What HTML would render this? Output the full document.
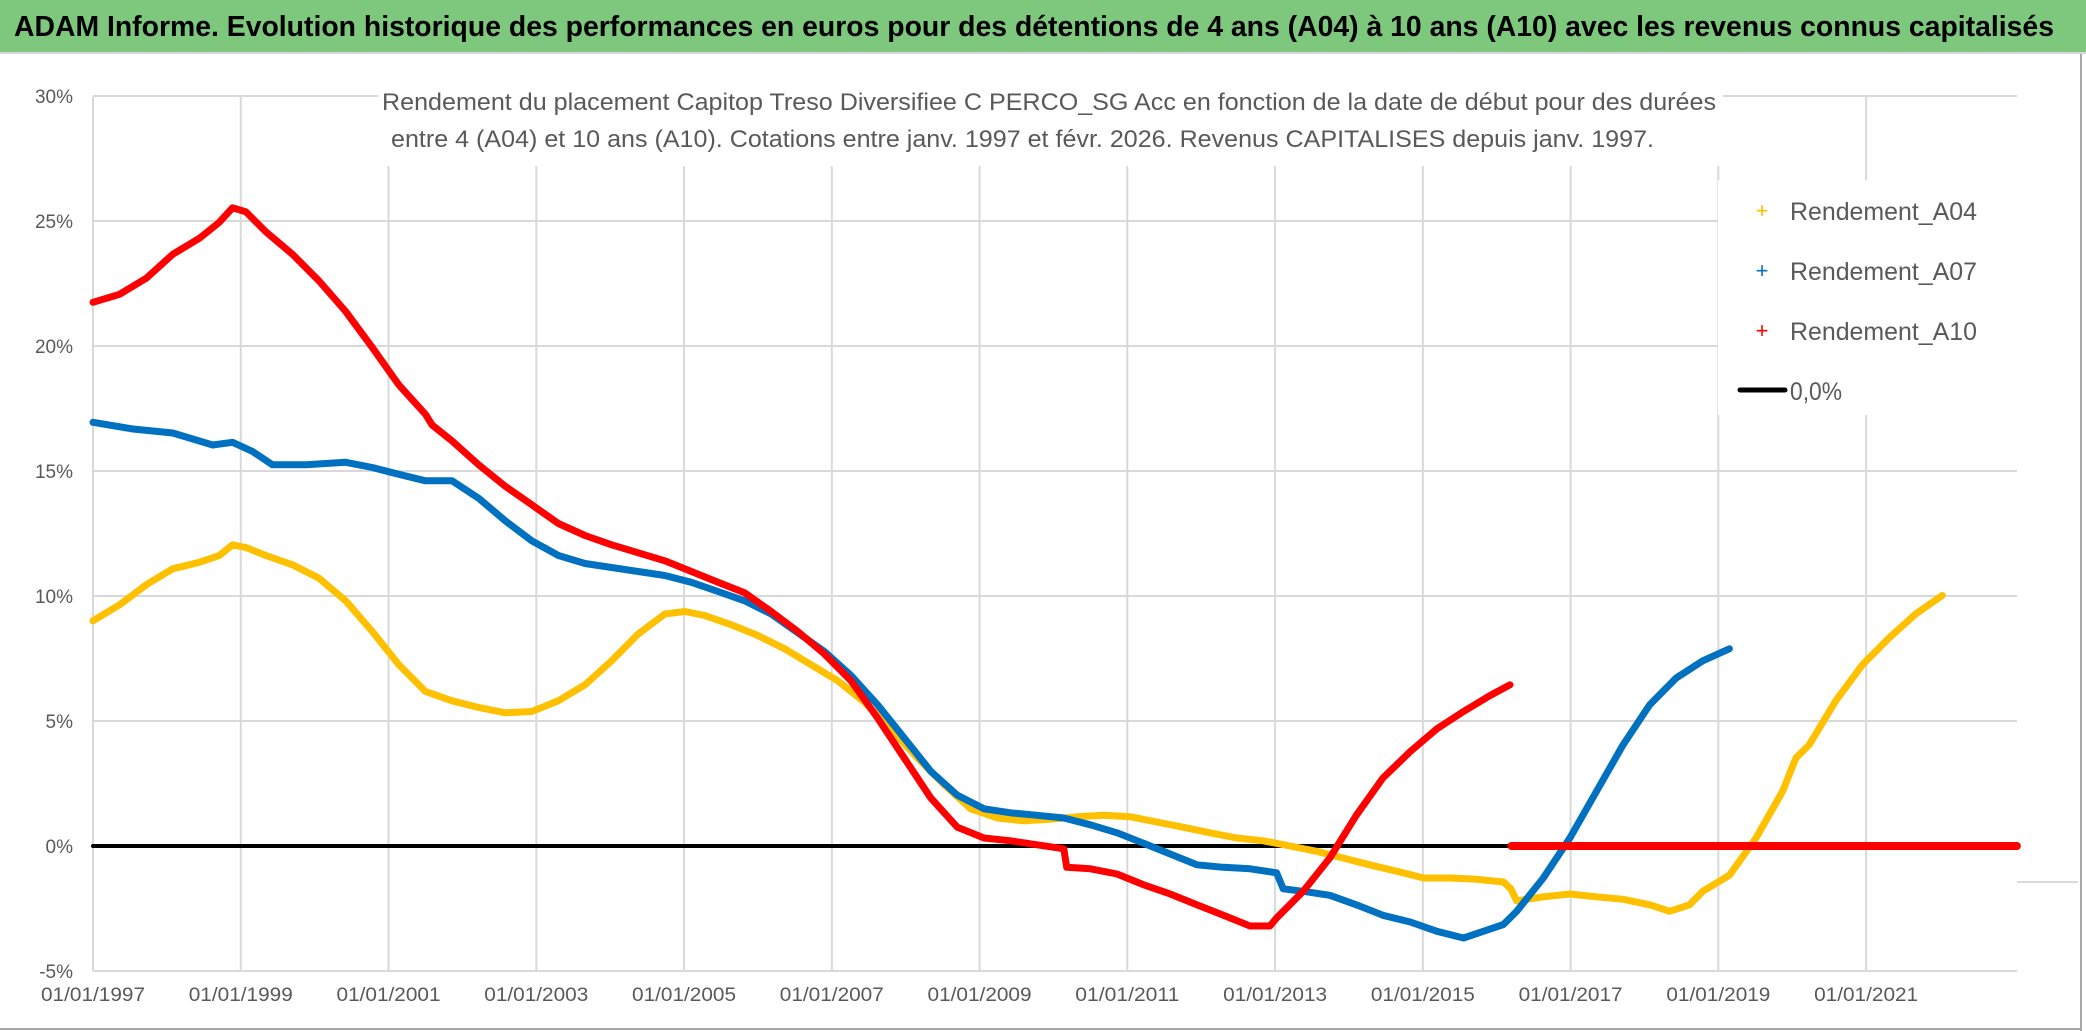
<!DOCTYPE html>
<html><head><meta charset="utf-8">
<style>
html,body{margin:0;padding:0;background:#fff;}
svg{display:block;}
text{font-family:"Liberation Sans",sans-serif;}
</style></head>
<body>
<svg id="chart" width="2086" height="1031" viewBox="0 0 2086 1031">
  <rect x="0" y="0" width="2086" height="1031" fill="#fff"/>
  <rect x="0" y="0" width="2086" height="52" fill="#7dc87c"/>
  <line x1="0" y1="53" x2="2086" y2="53" stroke="#d8d8d8" stroke-width="2"/>
  <text x="14" y="36" font-size="29" font-weight="bold" fill="#000" textLength="2040" lengthAdjust="spacingAndGlyphs">ADAM Informe. Evolution historique des performances en euros pour des détentions de 4 ans (A04) à 10 ans (A10) avec les revenus connus capitalisés</text>
  <line x1="2081" y1="54" x2="2081" y2="1031" stroke="#a6a6a6" stroke-width="2"/>
  <line x1="0" y1="1029" x2="2081" y2="1029" stroke="#a6a6a6" stroke-width="2"/>
  <g id="grid"></g>
  <g id="axes"></g>
  <g id="series"></g>
  <rect x="378" y="76" width="1345" height="90" fill="#fff"/>
  <text x="382" y="110" font-size="24" fill="#595959" textLength="1334" lengthAdjust="spacingAndGlyphs">Rendement du placement Capitop Treso Diversifiee C PERCO_SG Acc en fonction de la date de début pour des durées</text>
  <text x="391" y="147" font-size="24" fill="#595959" textLength="1263" lengthAdjust="spacingAndGlyphs">entre 4 (A04) et 10 ans (A10). Cotations entre janv. 1997 et févr. 2026. Revenus CAPITALISES depuis janv. 1997.</text>
  <g>
    <rect x="1718" y="180" width="312" height="235" fill="#fff"/>
    <text x="1762" y="218" font-size="22" fill="#ffc000" text-anchor="middle">+</text>
    <text x="1790" y="220" font-size="25" fill="#595959" textLength="187" lengthAdjust="spacingAndGlyphs">Rendement_A04</text>
    <text x="1762" y="278" font-size="22" fill="#0070c0" text-anchor="middle">+</text>
    <text x="1790" y="280" font-size="25" fill="#595959" textLength="187" lengthAdjust="spacingAndGlyphs">Rendement_A07</text>
    <text x="1762" y="338" font-size="22" fill="#ff0000" text-anchor="middle">+</text>
    <text x="1790" y="340" font-size="25" fill="#595959" textLength="187" lengthAdjust="spacingAndGlyphs">Rendement_A10</text>
    <line x1="1740" y1="390" x2="1785" y2="390" stroke="#000" stroke-width="5" stroke-linecap="round"/>
    <text x="1790" y="400" font-size="25" fill="#595959" textLength="52" lengthAdjust="spacingAndGlyphs">0,0%</text>
  </g>
</svg>
<script>
const yTicks = [30, 25, 20, 15, 10, 5, 0, -5];
const xTickYears = [1997, 1999, 2001, 2003, 2005, 2007, 2009, 2011, 2013, 2015, 2017, 2019, 2021];
const xTickLabels = ["01/01/1997","01/01/1999","01/01/2001","01/01/2003","01/01/2005","01/01/2007","01/01/2009","01/01/2011","01/01/2013","01/01/2015","01/01/2017","01/01/2019","01/01/2021"];

const a04Years = [1997.0,1997.36,1997.72,1998.08,1998.44,1998.71,1998.89,1999.07,1999.34,1999.70,2000.06,2000.42,2000.78,2001.14,2001.50,2001.86,2002.22,2002.58,2002.94,2003.30,2003.66,2004.02,2004.38,2004.74,2005.01,2005.28,2005.64,2006.0,2006.36,2006.72,2007.08,2007.44,2007.8,2008.16,2008.52,2008.88,2009.24,2009.6,2009.96,2010.32,2010.68,2011.04,2011.4,2011.76,2012.12,2012.48,2012.84,2013.2,2013.56,2013.92,2014.28,2014.65,2015.01,2015.37,2015.73,2016.09,2016.19,2016.27,2016.63,2016.99,2017.35,2017.71,2018.07,2018.34,2018.61,2018.79,2019.15,2019.51,2019.87,2020.05,2020.23,2020.59,2020.95,2021.31,2021.67,2022.03];
const a04Vals = [9.01,9.65,10.45,11.09,11.35,11.62,12.05,11.94,11.62,11.25,10.71,9.81,8.58,7.25,6.18,5.81,5.54,5.33,5.38,5.81,6.45,7.41,8.48,9.28,9.38,9.22,8.85,8.42,7.89,7.25,6.61,5.76,4.69,3.52,2.45,1.49,1.12,1.01,1.07,1.17,1.23,1.17,0.96,0.75,0.53,0.32,0.21,0,-0.21,-0.48,-0.75,-1.01,-1.28,-1.28,-1.33,-1.44,-1.71,-2.19,-2.03,-1.92,-2.03,-2.13,-2.35,-2.61,-2.35,-1.81,-1.17,0.32,2.19,3.52,4.05,5.81,7.25,8.32,9.28,10.02];
const a04ZeroYears = [2022.1, 2023.04];

const a07Years = [1997.0,1997.54,1998.08,1998.62,1998.89,1999.16,1999.43,1999.88,2000.42,2000.78,2001.14,2001.50,2001.86,2002.22,2002.58,2002.94,2003.30,2003.66,2004.02,2004.38,2004.74,2005.10,2005.46,2005.82,2006.18,2006.54,2006.90,2007.26,2007.62,2007.98,2008.34,2008.70,2009.06,2009.42,2009.78,2010.14,2010.50,2010.86,2011.22,2011.58,2011.94,2012.30,2012.66,2013.02,2013.11,2013.38,2013.74,2014.10,2014.46,2014.83,2015.19,2015.55,2015.82,2016.09,2016.27,2016.63,2016.99,2017.35,2017.71,2018.07,2018.43,2018.79,2019.15];
const a07Vals = [16.95,16.68,16.52,16.04,16.15,15.78,15.25,15.25,15.35,15.14,14.87,14.61,14.61,13.91,13.01,12.21,11.62,11.3,11.14,10.98,10.82,10.55,10.18,9.81,9.28,8.53,7.78,6.82,5.65,4.32,2.99,2.03,1.49,1.33,1.23,1.12,0.85,0.53,0.11,-0.32,-0.75,-0.85,-0.91,-1.07,-1.71,-1.81,-1.97,-2.35,-2.77,-3.04,-3.41,-3.68,-3.41,-3.14,-2.61,-1.28,0.32,2.19,4.05,5.65,6.72,7.41,7.89];

const a10Years = [1997.0,1997.36,1997.72,1998.08,1998.44,1998.71,1998.89,1999.07,1999.34,1999.70,2000.06,2000.42,2000.78,2001.14,2001.50,2001.59,2001.86,2002.22,2002.58,2002.94,2003.30,2003.66,2004.02,2004.38,2004.74,2005.10,2005.46,2005.82,2006.18,2006.54,2006.90,2007.26,2007.62,2007.98,2008.34,2008.70,2009.06,2009.42,2009.78,2010.14,2010.18,2010.50,2010.86,2011.22,2011.58,2011.94,2012.30,2012.66,2012.93,2013.02,2013.38,2013.74,2014.10,2014.46,2014.83,2015.19,2015.55,2015.91,2016.18];
const a10Vals = [21.75,22.07,22.71,23.67,24.31,24.95,25.53,25.37,24.57,23.67,22.6,21.38,19.94,18.44,17.27,16.84,16.2,15.25,14.39,13.65,12.9,12.42,12.05,11.73,11.41,10.98,10.55,10.13,9.38,8.58,7.68,6.61,5.12,3.52,1.92,0.75,0.32,0.21,0.05,-0.11,-0.85,-0.91,-1.12,-1.55,-1.92,-2.35,-2.77,-3.2,-3.2,-2.88,-1.81,-0.48,1.23,2.72,3.78,4.69,5.38,6.02,6.45];
const a10ZeroYears = [2016.2, 2023.04];

const NS = "http://www.w3.org/2000/svg";
const X0 = 93, PX_PER_YEAR = 73.88, Y_ZERO = 846, PX_PER_PCT = 25;
const PLOT_RIGHT = 2017, PLOT_TOP = 97, PLOT_BOTTOM = 971;
function xScale(year){ return X0 + (year - 1997) * PX_PER_YEAR; }
function yScale(v){ return Y_ZERO - v * PX_PER_PCT; }

const grid = document.getElementById('grid');
const axes = document.getElementById('axes');
const series = document.getElementById('series');

yTicks.forEach(function(t){
  const l = document.createElementNS(NS,'line');
  l.setAttribute('x1', X0); l.setAttribute('x2', PLOT_RIGHT);
  l.setAttribute('y1', yScale(t)); l.setAttribute('y2', yScale(t));
  l.setAttribute('stroke', '#d9d9d9'); l.setAttribute('stroke-width', '2');
  
  
  grid.appendChild(l);
  const tx = document.createElementNS(NS,'text');
  tx.setAttribute('x', 73); tx.setAttribute('y', yScale(t) + 7);
  tx.setAttribute('text-anchor', 'end'); tx.setAttribute('font-size', '19'); tx.setAttribute('fill', '#595959');
  tx.textContent = t + '%';
  
  
  axes.appendChild(tx);
});
const extra = document.createElementNS(NS,'line');
extra.setAttribute('x1', PLOT_RIGHT); extra.setAttribute('x2', 2078);
extra.setAttribute('y1', 882); extra.setAttribute('y2', 882);
extra.setAttribute('stroke', '#d9d9d9'); extra.setAttribute('stroke-width', '2');


grid.appendChild(extra);

xTickYears.forEach(function(y, i){
  const l = document.createElementNS(NS,'line');
  l.setAttribute('x1', xScale(y)); l.setAttribute('x2', xScale(y));
  l.setAttribute('y1', PLOT_TOP); l.setAttribute('y2', PLOT_BOTTOM);
  l.setAttribute('stroke', '#d9d9d9'); l.setAttribute('stroke-width', '2');
  
  
  grid.appendChild(l);
  const tx = document.createElementNS(NS,'text');
  tx.setAttribute('x', xScale(y)); tx.setAttribute('y', 1001);
  tx.setAttribute('text-anchor', 'middle'); tx.setAttribute('font-size', '19'); tx.setAttribute('fill', '#595959');
  tx.setAttribute('textLength', '104'); tx.setAttribute('lengthAdjust', 'spacingAndGlyphs');
  tx.textContent = xTickLabels[i];
  
  
  axes.appendChild(tx);
});

function drawLine(years, vals, color, width, name){
  let d = '';
  years.forEach(function(y, i){ d += (i ? 'L' : 'M') + xScale(y).toFixed(1) + ',' + yScale(vals[i]).toFixed(1); });
  const p = document.createElementNS(NS,'path');
  p.setAttribute('d', d); p.setAttribute('fill', 'none');
  p.setAttribute('stroke', color); p.setAttribute('stroke-width', width);
  p.setAttribute('stroke-linejoin', 'round'); p.setAttribute('stroke-linecap', 'round');
  
  
  series.appendChild(p);
}
drawLine([1997, 2016.2], [0, 0], '#000', 4, 'zero-line');
drawLine(a04ZeroYears, [0, 0], '#ffc000', 8, 'series-a04-zero');
drawLine(a04Years, a04Vals, '#ffc000', 7, 'series-a04');
drawLine(a07Years, a07Vals, '#0070c0', 7, 'series-a07');
drawLine(a10Years, a10Vals, '#ff0000', 7, 'series-a10');
drawLine(a10ZeroYears, [0, 0], '#ff0000', 8, 'series-a10-zero');
</script>
</body></html>
